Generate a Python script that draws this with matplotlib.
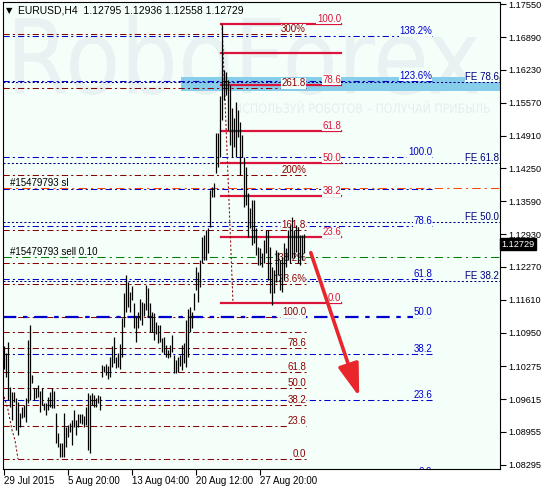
import matplotlib
matplotlib.use('Agg')
import matplotlib.pyplot as plt
import matplotlib.transforms as mtransforms
from matplotlib.textpath import TextPath
from matplotlib.patches import PathPatch, Rectangle
from matplotlib.font_manager import FontProperties

plt.rcParams['font.family'] = ['Liberation Sans', 'DejaVu Sans']

# ---データ---
highs = [1.1068, 1.1054, 1.1076, 1.0986, 1.0976, 1.0976, 1.0964, 1.0956, 1.0933, 1.0946,
         1.0950, 1.0964, 1.1080, 1.1110, 1.1010, 1.0984, 1.0984, 1.0990, 1.0978, 1.0984,
         1.0954, 1.0954, 1.0966, 1.0976, 1.0984, 1.0978, 1.0933, 1.0893, 1.0873, 1.0873,
         1.0933, 1.0905, 1.0909, 1.0913, 1.0919, 1.0940, 1.0919, 1.0931, 1.0931, 1.0931,
         1.0927, 1.0946, 1.0974, 1.0970, 1.0974, 1.0970, 1.0964, 1.0970, 1.0968,
         1.1030, 1.1028, 1.1032, 1.1028, 1.1046, 1.1068, 1.1086, 1.1046, 1.1054, 1.1072,
         1.1124, 1.1175, 1.1211, 1.1197, 1.1177, 1.1189, 1.1155, 1.1126, 1.1136, 1.1163,
         1.1157, 1.1155, 1.1191, 1.1185, 1.1155, 1.1136, 1.1134, 1.1116, 1.1110, 1.1110,
         1.1084, 1.1086, 1.1070, 1.1060, 1.1070, 1.1090, 1.1050, 1.1040, 1.1046, 1.1050,
         1.1070, 1.1074, 1.1120, 1.1143, 1.1147, 1.1136, 1.1175, 1.1227, 1.1217, 1.1241,
         1.1287, 1.1291, 1.1301, 1.1305, 1.1382, 1.1388, 1.1396, 1.1496, 1.1496, 1.1571,
         1.1713, 1.1623, 1.1619, 1.1603, 1.1593, 1.1547, 1.1526, 1.1559, 1.1543, 1.1518,
         1.1492, 1.1448, 1.1428, 1.1376, 1.1345, 1.1362, 1.1362, 1.1305, 1.1267, 1.1265,
         1.1255, 1.1281, 1.1301, 1.1301, 1.1267, 1.1227, 1.1221, 1.1261, 1.1257, 1.1241,
         1.1247, 1.1275, 1.1265, 1.1301, 1.1311, 1.1327, 1.1301, 1.1311, 1.1307, 1.1291,
         1.1291, 1.12936]
lows = [1.1022, 1.1006, 1.0960, 1.0946, 1.0919, 1.0956, 1.0899, 1.0889, 1.0905, 1.0923,
        1.0925, 1.0915, 1.0954, 1.0960, 1.0994, 1.0960, 1.0964, 1.0966, 1.0935, 1.0950,
        1.0940, 1.0929, 1.0940, 1.0946, 1.0944, 1.0944, 1.0873, 1.0865, 1.0845, 1.0845,
        1.0845, 1.0865, 1.0885, 1.0895, 1.0869, 1.0905, 1.0889, 1.0905, 1.0913, 1.0911,
        1.0905, 1.0909, 1.0859, 1.0853, 1.0950, 1.0946, 1.0946, 1.0954, 1.0940,
        1.1006, 1.1016, 1.1010, 1.1002, 1.1006, 1.1026, 1.1034, 1.1024, 1.1026, 1.1022,
        1.1046, 1.1106, 1.1136, 1.1147, 1.1136, 1.1161, 1.1104, 1.1076, 1.1104, 1.1120,
        1.1110, 1.1128, 1.1140, 1.1126, 1.1096, 1.1096, 1.1080, 1.1092, 1.1074, 1.1076,
        1.1056, 1.1052, 1.1046, 1.1044, 1.1046, 1.1056, 1.1014, 1.1014, 1.1016, 1.1028,
        1.1020, 1.1034, 1.1026, 1.1046, 1.1096, 1.1104, 1.1140, 1.1181, 1.1157, 1.1187,
        1.1235, 1.1241, 1.1241, 1.1255, 1.1307, 1.1368, 1.1368, 1.1416, 1.1428, 1.1448,
        1.1522, 1.1563, 1.1573, 1.1502, 1.1472, 1.1448, 1.1468, 1.1448, 1.1488, 1.1412,
        1.1448, 1.1348, 1.1352, 1.1287, 1.1305, 1.1271, 1.1275, 1.1251, 1.1231, 1.1231,
        1.1227, 1.1235, 1.1255, 1.1201, 1.1175, 1.1151, 1.1175, 1.1197, 1.1211, 1.1181,
        1.1177, 1.1201, 1.1227, 1.1241, 1.1235, 1.1245, 1.1245, 1.1257, 1.1235, 1.1231,
        1.1241, 1.12558]

price_ticks = [1.17550, 1.16890, 1.16230, 1.15570, 1.14910, 1.14250, 1.13590, 1.12930,
               1.12270, 1.11610, 1.10950, 1.10275, 1.09615, 1.08955, 1.08295]
date_pos = [0, 32, 64, 96, 128]
date_labels = ['29 Jul 2015', '5 Aug 20:00', '13 Aug 04:00', '20 Aug 12:00', '27 Aug 20:00']
last_price = 1.12729
header = 'EURUSD,H4  1.12795 1.12936 1.12558 1.12729'

# フィボ・エクスパンション（暗赤）
dr_levels = [1.16953, 1.15867, 1.14119, 1.13013, 1.12350, 1.11928, 1.11264, 1.10963,
             1.10641, 1.10159, 1.09837, 1.09496, 1.09073, 1.08410]
dr_labels = ['300%', '261.8', '200%', '161.8', '138.2%', '123.6%', '100.0', '',
             '78.6', '61.8', '50.0', '38.2', '23.6', '0.0']
# フィボ（青）
blue_levels = [1.16912, 1.16008, 1.14480, 1.13837, 1.13093, 1.12028, 1.11264, 1.10521,
               1.09596, 1.08048]
blue_labels = ['138.2%', '123.6%', '100.0', '', '78.6', '61.8', '50.0', '38.2', '23.6', '0.0']
# FE（紺の点線）
fe_levels = [1.15988, 1.14360, 1.13174, 1.11988]
fe_labels = ['FE 78.6', 'FE 61.8', 'FE 50.0', 'FE 38.2']
# フィボ・リトレースメント（赤）
red_levels = [1.17154, 1.16571, 1.15928, 1.15003, 1.14360, 1.13696, 1.12872, 1.11546]
red_labels = ['100.0', '', '78.6', '61.8', '50.0', '38.2', '23.6', '0.0']

sl_price = 1.13857
sell_price = 1.12470
zone_low, zone_high = 1.15807, 1.16088
red_trend_x = [109, 114.5]
red_trend_y = [1.17154, 1.11546]
left_trend_x = [-0.5, 2, 4, 5.5, 7]
left_trend_y = [1.0974, 1.0940, 1.0899, 1.0879, 1.0841]
arrow_from = (153.4, 1.12557)
arrow_to = (177.6, 1.09662)

BG = '#F5FFFA'
DR = '#8B0000'
BL = '#0000CC'
NV = '#000080'
CR = '#DC143C'

fig = plt.figure(figsize=(5.43, 4.87), dpi=100)
fig.patch.set_facecolor('white')
ax = fig.add_axes([3 / 543, 18 / 487, 497 / 543, 467 / 487])
ax.set_facecolor(BG)
ax.set_xlim(-0.5, 248)
ax.set_ylim(1.08209, 1.17596)

# ---ウォーターマーク---
def watermark(txt, x0, x1, ytop, ybot, color):
    tp = TextPath((0, 0), txt, size=1, prop=FontProperties(family='DejaVu Sans'))
    ext = tp.get_extents()
    sx = (x1 - x0) / ext.width
    sy = (ybot - ytop) / ext.height
    tr = mtransforms.Affine2D().translate(-ext.x0, -ext.y0).scale(sx, sy).translate(x0, 487 - ybot)
    p = PathPatch(tp, transform=tr, facecolor=color, edgecolor='none', zorder=0.5)
    ax.add_patch(p)

watermark('RoboForex', 15, 478, 15, 95, '#E8F2F2')
watermark('ИСПОЛЬЗУЙ РОБОТОВ – ПОЛУЧАЙ ПРИБЫЛЬ', 235, 490, 101, 113, '#E6EEEE')

# ---ゾーン---
ax.add_patch(Rectangle((88.5, zone_low), 248 - 88.5, zone_high - zone_low,
                       facecolor='#87CEEB', edgecolor='none', zorder=1))

dashdot = (0, (6, 3, 2, 3))
dotted = (0, (2, 2))
lab_kw = dict(ha='right', va='bottom', fontsize=7, zorder=3,
              bbox=dict(boxstyle='square,pad=0.05', fc=BG, ec='none'))

for lv, lb in zip(dr_levels, dr_labels):
    ax.plot([-0.5, 151], [lv, lv], color=DR, lw=0.75, ls=dashdot, zorder=2)
    if lb:
        ax.text(151, lv, lb, color=DR, **lab_kw)

for lv, lb in zip(blue_levels, blue_labels):
    w = 1.6 if lb == '50.0' else 0.75
    ax.plot([-0.5, 214], [lv, lv], color=BL, lw=w, ls=dashdot, zorder=2)
    if lb:
        ax.text(214, lv, lb, color=BL, clip_on=True, **lab_kw)

for lv, lb in zip(fe_levels, fe_labels):
    ax.plot([-0.5, 248], [lv, lv], color=NV, lw=0.75, ls=dotted, zorder=2)
    ax.text(247.5, lv, lb, color=NV, **lab_kw)

for lv, lb in zip(red_levels, red_labels):
    ax.plot([108.5, 168.5], [lv, lv], color=CR, lw=1.6, zorder=2)
    if lb:
        ax.text(168.5, lv, lb, color=CR, **lab_kw)

ax.plot(red_trend_x, red_trend_y, color=DR, lw=0.75, ls=dotted, zorder=2)
ax.plot(left_trend_x, left_trend_y, color=DR, lw=0.75, ls=dotted, zorder=2)

ax.plot([-0.5, 248], [sl_price, sl_price], color='#FF4500', lw=0.75, ls=(0, (8, 4, 2, 4)), zorder=2)
ax.plot([-0.5, 248], [sell_price, sell_price], color='#008000', lw=0.75, ls=(0, (8, 4, 2, 4)), zorder=2)
ax.text(3, sl_price, '#15479793 sl', fontsize=7, va='bottom', ha='left', zorder=3)
ax.text(3, sell_price, '#15479793 sell 0.10', fontsize=7, va='bottom', ha='left', zorder=3)

# ---バー---
ax.vlines(range(len(highs)), lows, highs, color='black', lw=0.9, zorder=4)

# ---矢印---
ax.annotate('', xy=arrow_to, xytext=arrow_from, zorder=5,
            arrowprops=dict(arrowstyle='-|>,head_length=1.0,head_width=0.32',
                            mutation_scale=20, lw=2.6, color='#E8262C',
                            shrinkA=0, shrinkB=0))

# ---ヘッダー---
ax.text(0.012, 0.981, '▼', transform=ax.transAxes, fontsize=6, va='center', ha='center',
        family=['DejaVu Sans'])
ax.text(0.030, 0.981, header, transform=ax.transAxes, fontsize=7.5, va='center', ha='left')

# ---軸---
ax.yaxis.tick_right()
ax.set_yticks(price_ticks)
ax.set_yticklabels(['%.5f' % p for p in price_ticks])
ax.set_xticks(date_pos)
ax.set_xticklabels(date_labels, ha='left')
ax.tick_params(axis='y', direction='out', length=4, width=0.8, pad=2, labelsize=6.6)
ax.tick_params(axis='x', direction='out', length=4, width=0.8, pad=1, labelsize=7)
for s in ax.spines.values():
    s.set_linewidth(0.8)
    s.set_color('black')

trans = mtransforms.blended_transform_factory(ax.transAxes, ax.transData)
ax.text(1.003, last_price, '%.5f' % last_price, transform=trans, color='white', fontsize=6.6,
        va='center', ha='left', clip_on=False,
        bbox=dict(boxstyle='square,pad=0.2', fc='black', ec='black'))

fig.savefig('out.png', dpi=100, facecolor='white')
